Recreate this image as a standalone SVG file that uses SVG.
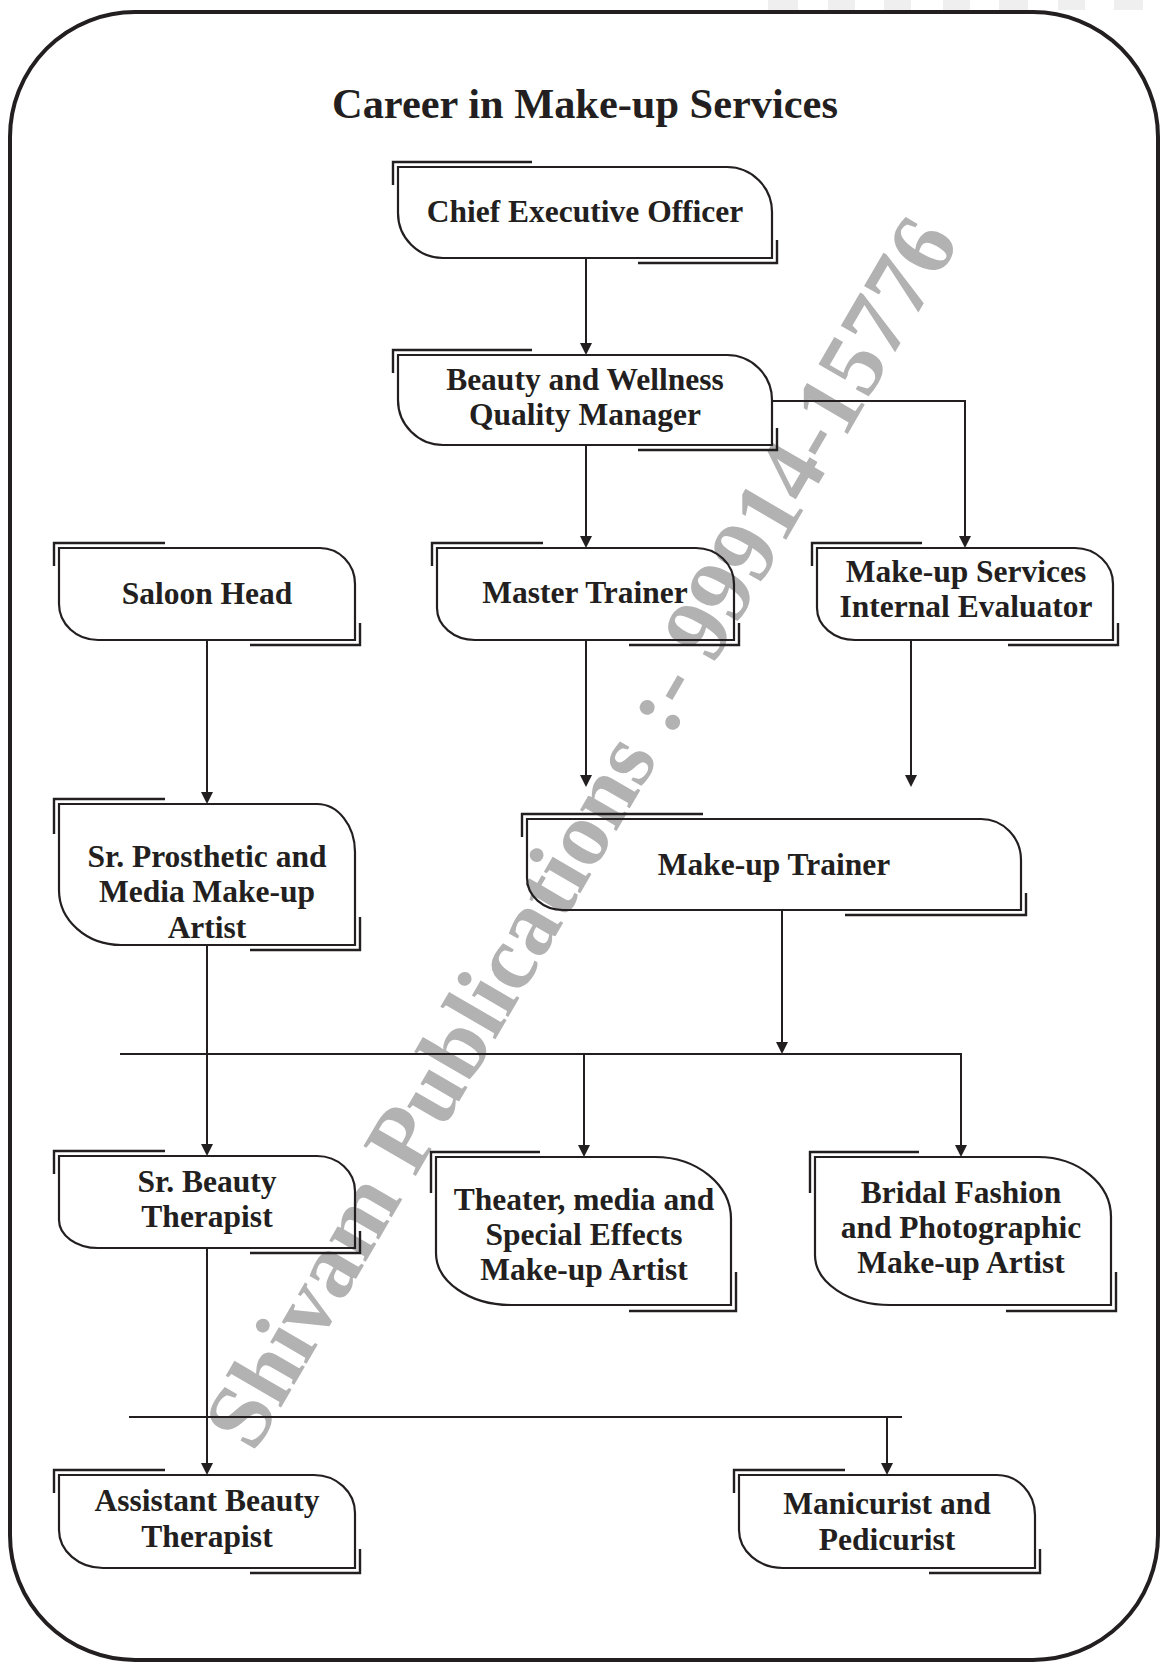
<svg xmlns="http://www.w3.org/2000/svg" width="1161" height="1663" viewBox="0 0 1161 1663">
<defs>
<style>
.t{font-family:"Liberation Serif","Times New Roman",serif;font-weight:bold;fill:#231f20;text-anchor:middle;font-size:31.5px}
.title{font-family:"Liberation Serif","Times New Roman",serif;font-weight:bold;fill:#231f20;text-anchor:middle;font-size:42.4px}
.wm{font-family:"Liberation Serif","Times New Roman",serif;font-weight:bold;fill:#b2b2b2;font-size:92px}
.box{fill:none;stroke:#231f20;stroke-width:2.2}
.br{fill:none;stroke:#231f20;stroke-width:2.4}
.c{fill:none;stroke:#231f20;stroke-width:2}
.a{marker-end:url(#arr)}
.art{fill:#efefef}
</style>
<marker id="arr" viewBox="0 0 12 12" markerUnits="userSpaceOnUse" markerWidth="12" markerHeight="12" refX="10" refY="6" orient="auto">
<path d="M0,0 L12,6 L0,12 Z" fill="#231f20"/>
</marker>
</defs>
<rect width="1161" height="1663" fill="#ffffff"/>
<g id="scan-artifacts">
<rect class="art" x="768" y="0" width="30" height="10"/>
<rect class="art" x="828" y="0" width="27" height="10"/>
<rect class="art" x="884" y="0" width="27" height="10"/>
<rect class="art" x="943" y="0" width="27" height="10"/>
<rect class="art" x="999" y="0" width="29" height="10"/>
<rect class="art" x="1058" y="0" width="27" height="10"/>
<rect class="art" x="1114" y="0" width="29" height="10"/>
</g>
<g id="watermark">
<text class="wm" transform="translate(254,1454) rotate(-59.8)">Shivam Publications :- 99914-15776</text>
</g>
<rect id="frame" x="10" y="12" width="1148" height="1648" rx="125" ry="125" fill="none" stroke="#231f20" stroke-width="4"/>
<text id="title" class="title" x="585" y="118">Career in Make-up Services</text>
<g id="connectors">
<path class="c a" d="M586,258 V353"/>
<path class="c a" d="M586,445 V546"/>
<path class="c a" d="M772,401 H965 V546"/>
<path class="c a" d="M207,640 V802"/>
<path class="c a" d="M586,640 V785"/>
<path class="c a" d="M911,640 V785"/>
<path class="c a" d="M782,910 V1052"/>
<path class="c a" d="M120,1054 H961 V1155"/>
<path class="c a" d="M584,1054 V1155"/>
<path class="c a" d="M207,945 V1154"/>
<path class="c a" d="M207,1248 V1473"/>
<path class="c" d="M129,1417 H902"/>
<path class="c a" d="M887,1417 V1473"/>
</g>
<g id="n-ceo">
<path class="box" d="M398,167 H727 A45 45 0 0 1 772,212 V258 H443 A45 45 0 0 1 398,213 Z"/>
<path class="br" d="M393,185 V162 H532 M777,240 V263 H638"/>
<text class="t" x="585" y="222">Chief Executive Officer</text>
</g>
<g id="n-bwqm">
<path class="box" d="M398,355 H727 A45 45 0 0 1 772,400 V445 H443 A45 45 0 0 1 398,400 Z"/>
<path class="br" d="M393,373 V350 H532 M777,428 V450 H638"/>
<text class="t" x="585" y="390">Beauty and Wellness</text>
<text class="t" x="585" y="425">Quality Manager</text>
</g>
<g id="n-saloon">
<path class="box" d="M59,548 H320 A35 36 0 0 1 355,584 V640 H98 A39 36 0 0 1 59,604 Z"/>
<path class="br" d="M54,566 V543 H165 M360,623 V645 H250"/>
<text class="t" x="207" y="604">Saloon Head</text>
</g>
<g id="n-master">
<path class="box" d="M437,548 H696 A38 36 0 0 1 734,584 V640 H475 A38 32 0 0 1 437,608 Z"/>
<path class="br" d="M432,566 V543 H543 M739,623 V645 H629"/>
<text class="t" x="585" y="603">Master Trainer</text>
</g>
<g id="n-evaluator">
<path class="box" d="M817,548 H1075 A38 36 0 0 1 1113,584 V640 H855 A38 32 0 0 1 817,608 Z"/>
<path class="br" d="M812,566 V543 H922 M1118,623 V645 H1008"/>
<text class="t" x="966" y="582">Make-up Services</text>
<text class="t" x="966" y="617">Internal Evaluator</text>
</g>
<g id="n-prosthetic">
<path class="box" d="M59,804 H317 A38 48 0 0 1 355,852 V945 H121 A62 55 0 0 1 59,890 Z"/>
<path class="br" d="M54,834 V799 H165 M360,917 V950 H250"/>
<text class="t" x="207" y="867">Sr. Prosthetic and</text>
<text class="t" x="207" y="902">Media Make-up</text>
<text class="t" x="207" y="938">Artist</text>
</g>
<g id="n-mtrainer">
<path class="box" d="M527,819 H981 A40 41 0 0 1 1021,860 V910 H563 A36 32 0 0 1 527,878 Z"/>
<path class="br" d="M522,837 V814 H703 M1026,893 V915 H845"/>
<text class="t" x="774" y="875">Make-up Trainer</text>
</g>
<g id="n-srbeauty">
<path class="box" d="M59,1156 H317 A38 35 0 0 1 355,1191 V1248 H98 A39 28 0 0 1 59,1220 Z"/>
<path class="br" d="M54,1174 V1151 H165 M360,1231 V1253 H250"/>
<text class="t" x="207" y="1192">Sr. Beauty</text>
<text class="t" x="207" y="1227">Therapist</text>
</g>
<g id="n-theater">
<path class="box" d="M436,1157 H655 A76 62 0 0 1 731,1219 V1305 H511 A75 52 0 0 1 436,1253 Z"/>
<path class="br" d="M431,1193 V1152 H540 M736,1272 V1311 H629"/>
<text class="t" x="584" y="1210">Theater, media and</text>
<text class="t" x="584" y="1245">Special Effects</text>
<text class="t" x="584" y="1280">Make-up Artist</text>
</g>
<g id="n-bridal">
<path class="box" d="M815,1157 H1038 A73 60 0 0 1 1111,1217 V1305 H890 A75 50 0 0 1 815,1255 Z"/>
<path class="br" d="M810,1193 V1152 H919 M1116,1272 V1311 H1006"/>
<text class="t" x="961" y="1203">Bridal Fashion</text>
<text class="t" x="961" y="1238">and Photographic</text>
<text class="t" x="961" y="1273">Make-up Artist</text>
</g>
<g id="n-assistant">
<path class="box" d="M59,1475 H314 A41 38 0 0 1 355,1513 V1568 H103 A44 38 0 0 1 59,1530 Z"/>
<path class="br" d="M54,1493 V1470 H165 M360,1549 V1573 H250"/>
<text class="t" x="207" y="1511">Assistant Beauty</text>
<text class="t" x="207" y="1547">Therapist</text>
</g>
<g id="n-manicurist">
<path class="box" d="M739,1475 H997 A38 40 0 0 1 1035,1515 V1568 H783 A44 38 0 0 1 739,1530 Z"/>
<path class="br" d="M734,1493 V1470 H845 M1040,1549 V1573 H929"/>
<text class="t" x="887" y="1514">Manicurist and</text>
<text class="t" x="887" y="1550">Pedicurist</text>
</g>
</svg>
